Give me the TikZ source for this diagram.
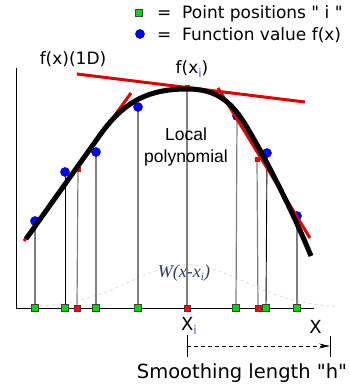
\documentclass[tikz,border=0pt]{standalone}
\usepackage{fontspec}
\setmainfont{DejaVu Sans}[Ligatures=TeXOff]
\newfontfamily\arialf{Liberation Sans}
\newfontfamily\timesf{Liberation Serif}
\usetikzlibrary{arrows.meta}
\definecolor{ptgreen}{RGB}{0,215,0}
\definecolor{subblue}{RGB}{70,90,200}
\definecolor{kernelc}{RGB}{225,225,208}
\definecolor{wcol}{RGB}{50,60,100}
\definecolor{tanred}{RGB}{225,0,0}
\pgfdeclarelayer{bg}
\pgfsetlayers{bg,main}
\tikzset{
  gsq/.style={draw=black!75, fill=ptgreen, minimum size=7pt, inner sep=0pt, line width=0.6pt},
  rsq/.style={draw=black!75, fill=red, minimum size=6pt, inner sep=0pt, line width=0.6pt},
  cmark/.style={fill=tanred, minimum size=5pt, inner sep=0pt},
  bdot/.style={circle, fill=blue, draw=blue!60!black, minimum size=9pt, inner sep=0pt, line width=0.5pt},
  vline/.style={gray, line width=1.2pt},
  vblack/.style={black, line width=0.9pt},
  tang/.style={tanred, line width=3pt},
  fcurve/.style={black, line width=5pt},
  txt/.style={font=\fontsize{17}{20}\selectfont, inner sep=0pt}
}
\newcommand{\bluesub}[1]{\raisebox{-4pt}{\fontsize{12}{12}\selectfont\textcolor{subblue}{#1}}}
\begin{document}
\begin{tikzpicture}[x=1pt,y=-1pt]
\useasboundingbox (0,0) rectangle (349,386);

% baseline points
\node[gsq] (p1) at (35,308) {};
\node[gsq] (p2) at (65,308) {};
\node[rsq] (p3) at (77,308) {};
\node[gsq] (p4) at (96,308) {};
\node[gsq] (p5) at (138,308) {};
\node[rsq] (p6) at (187,308) {};
\node[gsq] (p7) at (236,308) {};
\node[rsq] (p8) at (258,308) {};
\node[gsq] (p9) at (266,308) {};
\node[gsq] (p10) at (297,308) {};

% function values
\node[bdot] (d1) at (35,221) {};
\node[bdot] (d2) at (65,172) {};
\node[bdot] (d3) at (96,152) {};
\node[bdot] (d4) at (138,107) {};
\node[bdot] (d5) at (237,116) {};
\node[bdot] (d6) at (267,153) {};
\node[bdot] (d7) at (297,216) {};

% red tangent lines
\draw[tang] (77,74) -- (305,102);
\draw[tang] (24,241) -- (131,93);
\draw[tang] (218,88) -- (310,238);

% tangent points
\node[cmark] (m1) at (78,169) {};
\node[cmark] (m2) at (187,87) {};
\node[cmark] (m3) at (257,159) {};

% black function curve
\draw[fcurve] (26,239) -- (100,135)
  .. controls (125,100) and (150,89) .. (187,89)
  .. controls (215,89) and (230,100) .. (245,124)
  .. controls (262,152) and (290,205) .. (311,256);

% background: kernel, axes, vertical lines
\begin{pgfonlayer}{bg}
\draw[kernelc, dashed, line width=1pt] plot[domain=40:335, samples=80] (\x, {308-43*exp(-0.5*((\x-187)/58)^2)});
\coordinate (ytop) at (16,68);
\coordinate (orig) at (16,308);
\coordinate (xend) at (314,308);
\draw[black, line width=0.9pt] (ytop) -- (orig) -- (xend);
\draw[vline] (p1.center) -- (d1.center);
\draw[vblack] (p2.center) -- (d2.center);
\draw[vline] (p3.center) -- (m1.center);
\draw[vline] (p4.center) -- (d3.center);
\draw[vline] (p5.center) -- (d4.center);
\draw[vline] (p6.center) -- (m2.center);
\draw[vline] (p7.center) -- (d5.center);
\draw[vline] (p8.center) -- (m3.center);
\draw[vblack] (p9.center) -- (d6.center);
\draw[vline] (p10.center) -- (d7.center);
\end{pgfonlayer}

% legend
\node[gsq] (lg) at (139,13) {};
\node[bdot] (lb) at (140,34) {};
\node[txt, anchor=west] (lgt) at (157,14) {=~~Point positions~"~i~"};
\node[txt, anchor=west] (lbt) at (157,35) {=~~Function value f(x)};

% labels
\node[txt] (f1d) at (73,59) {f(x)(1D)};
\node[txt] (fxi) at (192,69) {f(x\bluesub{i})};
\node[font=\arialf\fontsize{17.5}{22}\selectfont, align=center, inner sep=0pt] (lp) at (186,147) {Local\\polynomial};
\node[font=\timesf\itshape\fontsize{18}{20}\selectfont, text=wcol, inner sep=0pt] (w) at (184,273) {W(x-x\raisebox{-3pt}{\fontsize{11}{11}\selectfont i})};
\node[txt, font=\fontsize{18}{20}\selectfont] (xi) at (189,326) {X\bluesub{i}};
\node[txt, font=\fontsize{18}{20}\selectfont] (xx) at (315.5,327) {X};

% smoothing length
\coordinate (ha) at (187,335);
\coordinate (hb) at (187,357);
\coordinate (hc) at (330,336);
\coordinate (hd) at (330,357);
\coordinate (hs) at (187,346);
\coordinate (he) at (330,346);
\draw[black, line width=0.8pt] (ha) -- (hb);
\draw[black, line width=0.8pt] (hc) -- (hd);
\draw[black, line width=0.8pt, dash pattern=on 4pt off 3pt, -{Stealth[length=11pt,width=5pt]}] (hs) -- (he);
\node[txt, font=\fontsize{19.5}{22}\selectfont] (sl) at (242,373) {Smoothing length "h"};
\end{tikzpicture}
\end{document}
